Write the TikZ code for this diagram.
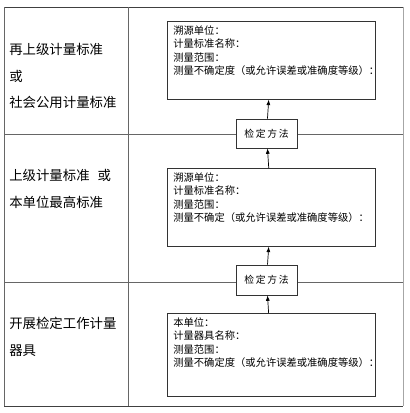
\documentclass[tikz,border=0pt]{standalone}
\usepackage{fontspec}
\setmainfont{Noto Sans CJK SC}
\usetikzlibrary{positioning,arrows.meta}

\begin{document}
\begin{tikzpicture}[x=1pt, y=-1pt,
  line width=.6pt,
  rowtext/.style={anchor=west, align=left, inner sep=0pt, font=\fontsize{13.4}{26.5}\selectfont},
  infobox/.style={draw=black!80, anchor=north west, minimum width=208pt, minimum height=78pt, inner sep=0pt},
  infotext/.style={anchor=north west, align=left, inner sep=0pt, font=\fontsize{10.3}{13.6}\selectfont},
  methodbox/.style={draw=black!80, fill=white, minimum width=61pt, minimum height=29pt, inner sep=0pt, font=\fontsize{9.8}{11}\selectfont},
  up/.style={-{Latex[length=5.5pt,width=4pt]}, draw=black, line width=.7pt}]
  \useasboundingbox (0,0) rectangle (410,413);
  \draw[black!75] (4,7) -- (403,7);
  \draw[black!75] (4,406) -- (403,406);
  \draw[black!60] (4,7) -- (4,406);
  \draw[black!35] (403,7) -- (403,406);
  \draw[black!60] (128,7) -- (128,406);
  \draw[black!60] (4,134) -- (403,134);
  \draw[black!60] (4,282) -- (403,282);
  \node[rowtext] (r1) at (9,76) {再上级计量标准\\或\\社会公用计量标准};
  \node[rowtext] (r2) at (9,189) {上级计量标准\hspace{.6em}或\\本单位最高标准};
  \node[rowtext] (r3) at (9,337) {开展检定工作计量\\器具};
  \node[infobox] (b1) at (167,21) {};
  \node[infobox] (b2) at (167,168) {};
  \node[infobox, minimum height=83pt] (b3) at (167,313) {};
  \node[infotext] (t1) at ([xshift=6pt, yshift=-4pt]b1.north west) {溯源单位：\\计量标准名称：\\测量范围：\\测量不确定度（或允许误差或准确度等级）：};
  \node[infotext] (t2) at ([xshift=6pt, yshift=-4pt]b2.north west) {溯源单位：\\计量标准名称：\\测量范围：\\测量不确定（或允许误差或准确度等级）：};
  \node[infotext] (t3) at ([xshift=6pt, yshift=-4pt]b3.north west) {本单位：\\计量器具名称：\\测量范围：\\测量不确定度（或允许误差或准确度等级）：};
  \node[methodbox] (m1) at (266.5,133.5) {检\,定\,方\,法};
  \node[methodbox, minimum height=30pt] (m2) at (266.5,280) {检\,定\,方\,法};
  \draw[up] (m1) -- (b1);
  \draw[up] (b2) -- (m1);
  \draw[up] (m2) -- (b2);
  \draw[up] (b3) -- (m2);
\end{tikzpicture}
\end{document}
